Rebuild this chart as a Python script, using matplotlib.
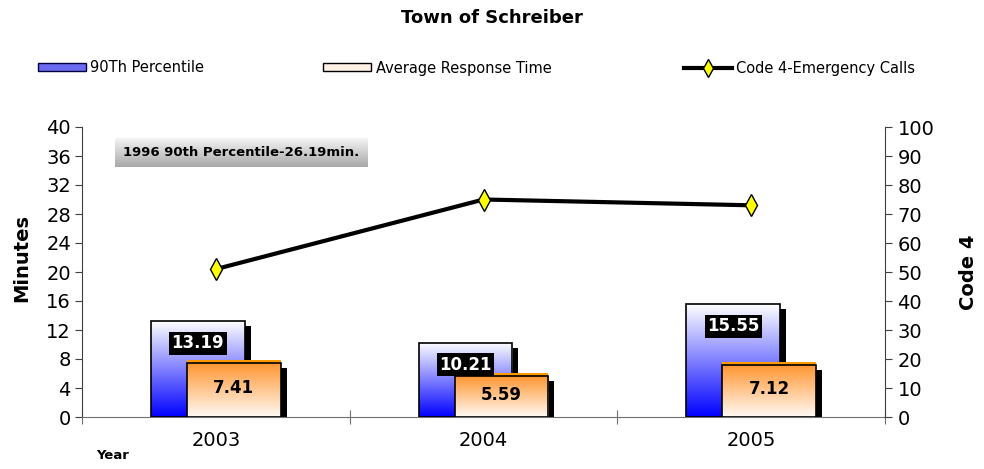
import numpy as np
import matplotlib
matplotlib.use('Agg')
import matplotlib.pyplot as plt
from matplotlib import transforms
from matplotlib.colors import LinearSegmentedColormap
from matplotlib.patches import Patch
from matplotlib.lines import Line2D

# data
years = ['2003', '2004', '2005']
pct90 = [13.19, 10.21, 15.55]
avg_resp = [7.41, 5.59, 7.12]
code4 = [51, 75, 73]

plt.rcParams['font.family'] = ['DejaVu Sans']

fig = plt.figure(figsize=(9.84, 4.69), dpi=100)
ax = fig.add_axes([82 / 984, 1 - 417 / 469, (885 - 82) / 984, 290 / 469])
ax2 = ax.twinx()

x = np.arange(len(years))
w = 0.35
off = 0.067

blue_cmap = LinearSegmentedColormap.from_list('b', ['#ffffff', '#0000ff'])
orange_cmap = LinearSegmentedColormap.from_list('o', ['#ff9630', '#fffaf6'])
grad = np.linspace(0, 1, 256).reshape(-1, 1)

shadow = transforms.offset_copy(ax.transData, fig=fig, x=6, y=-5, units='dots')
lift = transforms.offset_copy(ax.transData, fig=fig, x=0, y=3, units='dots')

# 90th percentile bars (blue gradient, white on top)
xb = x - off
ax.bar(xb, pct90, w, color='black', transform=shadow, zorder=1)
for xi, v in zip(xb, pct90):
    ax.imshow(grad, extent=(xi - w / 2, xi + w / 2, 0, v), aspect='auto',
              origin='upper', cmap=blue_cmap, zorder=2)
ax.bar(xb, pct90, w, fill=False, edgecolor='black', lw=1.2, zorder=3)

# average response bars (orange on top, fading to white)
xo = x + off
ax.bar(xo, avg_resp, w, color='black', transform=shadow, zorder=4)
ax.bar(xo, avg_resp, w, color='#ff9900', transform=lift, zorder=4.5)
for xi, v in zip(xo, avg_resp):
    ax.imshow(grad, extent=(xi - w / 2, xi + w / 2, 0, v), aspect='auto',
              origin='upper', cmap=orange_cmap, zorder=5)
ax.bar(xo, avg_resp, w, fill=False, edgecolor='black', lw=1.2, zorder=6)

# value labels
for xi, v in zip(xb, pct90):
    ax.text(xi, v - 3.0, f'{v:.2f}', ha='center', va='center', color='white',
            fontsize=12, fontweight='bold', zorder=8,
            bbox=dict(boxstyle='square,pad=0.15', fc='black', ec='none'))
for xi, v in zip(xo, avg_resp):
    ax.text(xi, v / 2 + 0.3, f'{v:.2f}', ha='center', va='center', color='black',
            fontsize=12, fontweight='bold', zorder=8)

# gray note box
gbox = LinearSegmentedColormap.from_list('g', ['#f4f4f4', '#a8a8a8'])
ax.imshow(grad, extent=(0.041, 0.355, 0.862, 0.962), transform=ax.transAxes,
          aspect='auto', cmap=gbox, zorder=7)
ax.text(0.198, 0.912, '1996 90th Percentile-26.19min.', transform=ax.transAxes,
        ha='center', va='center', fontsize=9.5, fontweight='bold', zorder=8)

# code 4 line
ax2.plot(x, code4, color='black', lw=3, marker='d', markersize=11,
         markerfacecolor='#ffff00', markeredgecolor='black', markeredgewidth=1,
         zorder=5)

# axes
ax.set_xlim(-0.5, 2.5)
ax.set_ylim(0, 40)
ax.set_yticks(np.arange(0, 41, 4))
ax2.set_ylim(0, 100)
ax2.set_yticks(np.arange(0, 101, 10))

ax.set_xticks([-0.5, 0.5, 1.5, 2.5])
ax.set_xticklabels([])
ax.set_xticks(x, minor=True)
ax.set_xticklabels(years, minor=True)
ax.tick_params(axis='x', which='major', direction='inout', length=10, color='#707070')
ax.tick_params(axis='x', which='minor', length=0, pad=10, labelsize=14)
ax.tick_params(axis='y', direction='out', length=5, color='#404040', labelsize=14, pad=3)
ax2.tick_params(axis='y', direction='out', length=5, color='#404040', labelsize=14, pad=4)

ax.spines['top'].set_visible(False)
ax2.spines['top'].set_visible(False)
ax.spines['right'].set_visible(False)
ax2.spines['left'].set_visible(False)
ax2.spines['bottom'].set_visible(False)
ax.spines['left'].set_color('#404040')
ax.spines['bottom'].set_color('#707070')
ax2.spines['right'].set_color('#404040')

# titles and labels
fig.text(0.5, 1 - 18 / 469, 'Town of Schreiber', ha='center', va='center',
         fontsize=13, fontweight='bold')
fig.text(22 / 984, 1 - 258 / 469, 'Minutes', rotation=90, ha='center', va='center',
         fontsize=14, fontweight='bold')
fig.text(968 / 984, 1 - 272 / 469, 'Code 4', rotation=90, ha='center', va='center',
         fontsize=14, fontweight='bold')
fig.text(113 / 984, 1 - 455 / 469, 'Year', ha='center', va='center',
         fontsize=9.5, fontweight='bold')

# legend entries
handles = [
    Patch(facecolor='#6b6bf0', edgecolor='#000040', lw=1, label='90Th Percentile'),
    Patch(facecolor='#fff1e4', edgecolor='black', lw=1, label='Average Response Time'),
    Line2D([], [], color='black', lw=3, marker='d', markersize=9,
           markerfacecolor='#ffff00', markeredgecolor='black',
           label='Code 4-Emergency Calls'),
]
for h, lx in zip(handles, [38, 323, 684]):
    fig.legend(handles=[h], loc='center left', bbox_to_anchor=(lx / 984, 1 - 68 / 469),
               frameon=False, borderpad=0, borderaxespad=0, handlelength=3.3,
               handleheight=0.5, handletextpad=0.3, fontsize=10.5)

fig.savefig('out.png', dpi=100)
